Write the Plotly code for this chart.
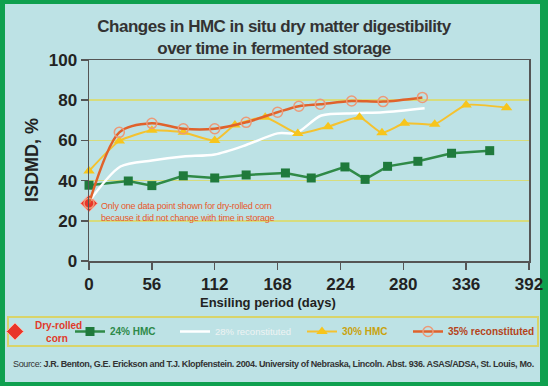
import plotly.graph_objects as go

# ---------------- data ----------------
dry_days = [0]
dry_vals = [28.7]

hmc24_days = [0, 35, 56, 84, 112, 140, 175, 198, 228, 246, 266, 293, 323, 357]
hmc24_vals = [37.7, 39.8, 37.5, 42.4, 41.3, 42.8, 43.8, 41.3, 46.8, 40.6, 47.1, 49.6, 53.6, 54.9]

rec28_days = [0, 28, 56, 84, 112, 140, 168, 185, 207, 237, 262, 299]
rec28_vals = [29.5, 47.0, 50.0, 52.0, 53.0, 57.7, 63.5, 63.8, 72.4, 73.5, 74.0, 76.0]

hmc30_days = [0, 27, 56, 84, 112, 130, 157, 186, 213, 241, 261, 281, 308, 336, 372]
hmc30_vals = [44.8, 59.7, 65.0, 64.0, 59.9, 67.7, 71.5, 63.4, 66.8, 71.5, 63.8, 68.5, 68.0, 77.6, 76.3]

rec35_days = [0, 27, 56, 84, 112, 140, 168, 187, 206, 234, 262, 297]
rec35_vals = [28.7, 64.0, 68.5, 65.8, 65.8, 69.0, 74.0, 77.0, 78.0, 79.6, 79.3, 81.4]

x_ticks = [0, 56, 112, 168, 224, 280, 336, 392]
y_ticks = [0, 20, 40, 60, 80, 100]

names = ["Dry-rolled<br>\u00a0\u00a0\u00a0\u00a0corn", "24% HMC", "28% reconstituted", "30% HMC", "35% reconstituted"]

BG = "#bde2e5"
GREEN_FRAME = "#0fa04f"
SANS = "Liberation Sans, Arial, sans-serif"

W, H = 548, 386
ML, MR, MT, MB = 89, 19, 60, 125
PW, PH = W - ML - MR, H - MT - MB


def px_x(p):
    return (p - ML) / PW


def px_y(p):
    return (H - MB - p) / PH


fig = go.Figure()

fig.add_trace(go.Scatter(
    x=dry_days, y=dry_vals, mode="markers", name=names[0], legend="legend",
    marker=dict(symbol="diamond", size=13, color="#e8352a", line=dict(color="#ffb0a0", width=1)),
    cliponaxis=False,
))
fig.add_trace(go.Scatter(
    x=hmc24_days, y=hmc24_vals, mode="lines+markers", name=names[1], legend="legend2",
    line=dict(color="#2f8a47", width=2.5),
    marker=dict(symbol="square", size=9, color="#1f7a3c"),
    cliponaxis=False,
))
fig.add_trace(go.Scatter(
    x=rec28_days, y=rec28_vals, mode="lines", name=names[2], legend="legend3",
    line=dict(color="#ffffff", width=2.5, shape="spline", smoothing=0.8),
    cliponaxis=False,
))
fig.add_trace(go.Scatter(
    x=hmc30_days, y=hmc30_vals, mode="lines+markers", name=names[3], legend="legend4",
    line=dict(color="#f4c230", width=2, shape="spline", smoothing=0.5),
    marker=dict(symbol="triangle-up", size=10, color="#f7c51c"),
    cliponaxis=False,
))
fig.add_trace(go.Scatter(
    x=rec35_days, y=rec35_vals, mode="lines+markers", name=names[4], legend="legend5",
    line=dict(color="#e0622b", width=2.5, shape="spline", smoothing=0.8),
    marker=dict(symbol="circle-open", size=10, color="#ec9a78", line=dict(width=1.5)),
    cliponaxis=False,
))


def leg(x_px, color, size=10, bold=True):
    return dict(
        orientation="h", x=px_x(x_px), y=px_y(331.5), xanchor="left", yanchor="middle",
        bgcolor="rgba(0,0,0,0)", borderwidth=0,
        font=dict(family=SANS, size=size, color=color, weight="bold" if bold else "normal"),
        itemclick=False, itemdoubleclick=False,
    )


fig.update_layout(
    width=W, height=H,
    margin=dict(l=ML, r=MR, t=MT, b=MB, autoexpand=False),
    paper_bgcolor=GREEN_FRAME,
    plot_bgcolor=BG,
    hovermode=False,
    title=dict(
        text="<span style='letter-spacing:-0.5px'><b>Changes in HMC in situ dry matter digestibility<br>over time in fermented storage</b></span>",
        x=0.5, xref="container", xanchor="center",
        y=1 - 31.5 / H, yref="container", yanchor="middle",
        font=dict(family=SANS, size=17, color="#333333"),
    ),
    showlegend=True,
    legend=leg(-5, "#e03a2a"),
    legend2=leg(70, "#2d8a4a"),
    legend3=leg(175, "#eef3f3", size=9.5, bold=False),
    legend4=leg(302, "#c9a20e"),
    legend5=leg(408, "#b5441a"),
    shapes=[
        dict(type="rect", xref="paper", yref="paper", layer="below",
             x0=px_x(5), x1=px_x(540), y0=px_y(382), y1=px_y(4),
             fillcolor=BG, line=dict(width=0)),
        dict(type="rect", xref="paper", yref="paper", layer="above",
             x0=px_x(8), x1=px_x(538), y0=px_y(346), y1=px_y(317),
             fillcolor="rgba(0,0,0,0)", line=dict(width=2, color="#d8d46a")),
    ],
    annotations=[
        dict(text="<span style='letter-spacing:-0.2px'>Only one data point shown for dry-rolled corn<br>because it did not change with time in storage</span>",
             xref="x", yref="y", x=9.0, y=24.6, xanchor="left", yanchor="middle", align="left",
             showarrow=False, font=dict(family=SANS, size=9, color="#e8582a")),
        dict(text="<b>Ensiling period (days)</b>", xref="paper", yref="paper",
             x=px_x(268), y=px_y(302), xanchor="center", yanchor="middle", showarrow=False,
             font=dict(family=SANS, size=13, color="#222222")),
        dict(text="<b>ISDMD, %</b>", xref="paper", yref="paper", textangle=-90,
             x=px_x(32), y=px_y(160), xanchor="center", yanchor="middle", showarrow=False,
             font=dict(family=SANS, size=18, color="#222222")),
        dict(text="<span style='letter-spacing:-0.37px'>Source: <b>J.R. Benton, G.E. Erickson and T.J. Klopfenstein. 2004. University of Nebraska, Lincoln. Abst. 936. ASAS/ADSA, St. Louis, Mo.</b></span>",
             xref="paper", yref="paper", x=px_x(273.5), y=px_y(364), xanchor="center", yanchor="middle",
             showarrow=False, font=dict(family=SANS, size=9, color="#333333")),
    ],
)

fig.update_xaxes(
    range=[0, 392], tickvals=x_ticks, ticktext=["<b>%d</b>" % v for v in x_ticks],
    showgrid=False, zeroline=False,
    showline=True, linecolor="#555555", linewidth=1.5, mirror=True,
    ticks="outside", ticklen=7, tickcolor="#555555", tickwidth=1.5,
    tickfont=dict(family=SANS, size=17, color="#222222"),
)
fig.update_yaxes(
    range=[0, 100], tickvals=y_ticks, ticktext=["<b>%d</b>" % v for v in y_ticks],
    showgrid=True, gridcolor="#d7dc7c", gridwidth=1.5, zeroline=False,
    showline=True, linecolor="#555555", linewidth=1.5, mirror=True,
    ticks="outside", ticklen=7, tickcolor="#555555", tickwidth=1.5,
    tickfont=dict(family=SANS, size=17, color="#222222"),
)

fig.write_html(
    "out.html",
    config={"displayModeBar": False, "staticPlot": True},
    post_script="document.body.style.margin='0';document.body.style.overflow='hidden';",
)
